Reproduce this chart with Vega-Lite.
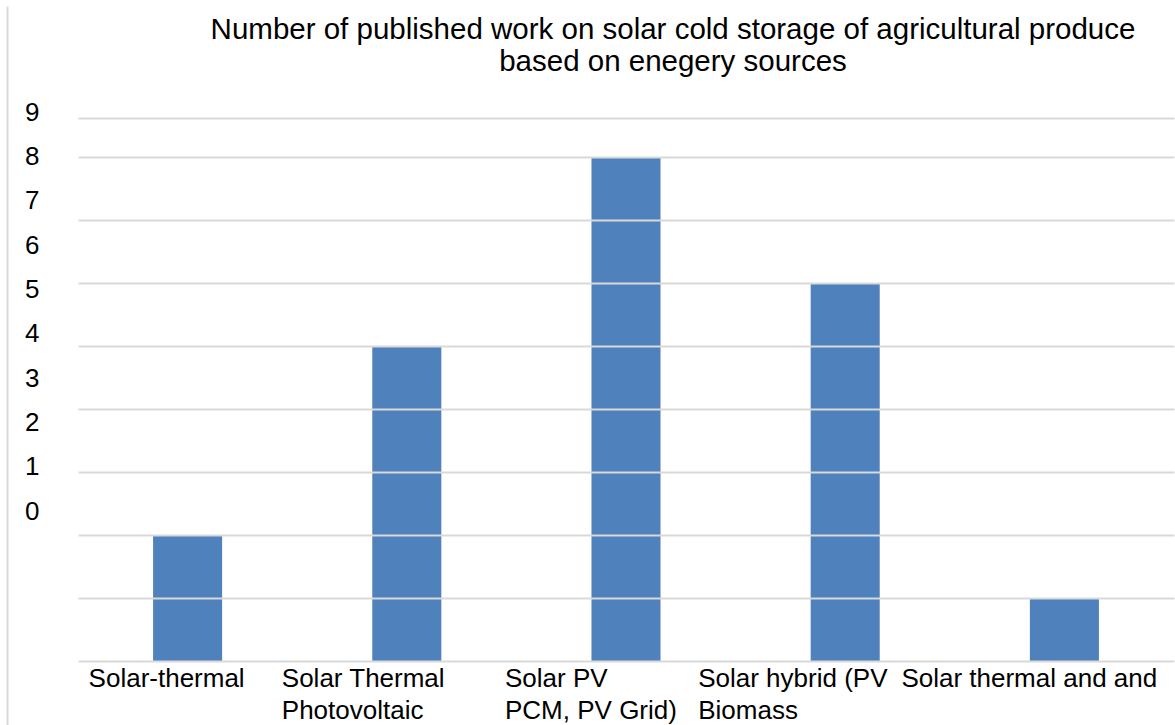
{
  "$schema": "https://vega.github.io/schema/vega-lite/v6.json",
  "autosize": "none",
  "width": 1096,
  "height": 719,
  "padding": {"left": 78, "top": 6, "right": 1, "bottom": 0},
  "background": "white",
  "config": {
    "font": "Liberation Sans",
    "view": {"stroke": null}
  },
  "title": {
    "text": ["Number of published work on solar cold storage of agricultural produce", "based on enegery sources"],
    "fontSize": 29.5,
    "fontWeight": "normal",
    "color": "#000000",
    "font": "Liberation Sans",
    "lineHeight": 32,
    "anchor": "middle",
    "baseline": "top",
    "dx": 47,
    "offset": -71
  },
  "data": {
    "values": [
      {"source": "Solar-thermal", "count": 2},
      {"source": "Solar Thermal\nPhotovoltaic", "count": 5},
      {"source": "Solar PV\nPCM, PV Grid)", "count": 8},
      {"source": "Solar hybrid (PV\nBiomass", "count": 6},
      {"source": "Solar thermal and and", "count": 1}
    ]
  },
  "encoding": {
    "x": {
      "field": "source",
      "type": "nominal",
      "sort": null,
      "scale": {"paddingInner": 0.685, "paddingOuter": 0.3425},
      "axis": {
        "title": null,
        "orient": "bottom",
        "offset": -64,
        "domain": false,
        "ticks": false,
        "grid": false,
        "labelAngle": 0,
        "labelAlign": "left",
        "labelBaseline": "top",
        "labelPadding": 4,
        "labelFontSize": 26,
        "labelLineHeight": 32,
        "labelColor": "#000000",
        "labelOverlap": false,
        "labelBound": false,
        "labelLimit": 0,
        "labelExpr": "split(datum.label, '\\n')",
        "labelOffset": {
          "condition": [
            {"test": "datum.value == 'Solar Thermal\\nPhotovoltaic'", "value": -125},
            {"test": "datum.value == 'Solar PV\\nPCM, PV Grid)'", "value": -121},
            {"test": "datum.value == 'Solar hybrid (PV\\nBiomass'", "value": -147},
            {"test": "datum.value == 'Solar thermal and and'", "value": -163}
          ],
          "value": -99
        }
      }
    }
  },
  "layer": [
    {
      "mark": {"type": "bar", "color": "#4f81bd"},
      "encoding": {
        "y": {
          "field": "count",
          "type": "quantitative",
          "scale": {"domain": [-1.016, 10.397], "nice": false, "zero": false},
          "axis": {
            "title": null,
            "orient": "left",
            "zindex": 1,
            "domain": false,
            "ticks": false,
            "labels": false,
            "grid": true,
            "gridColor": "#d9d9d9",
            "gridWidth": 2,
            "values": [0, 1, 2, 3, 4, 5, 6, 7, 8, 8.619]
          }
        }
      }
    },
    {
      "mark": {"type": "point", "opacity": 0},
      "encoding": {
        "y": {
          "field": "count",
          "type": "quantitative",
          "scale": {"domain": [-4.827, 11.392], "nice": false, "zero": false},
          "axis": {
            "title": null,
            "orient": "left",
            "offset": 71,
            "domain": true,
            "domainColor": "#d9d9d9",
            "domainWidth": 2,
            "ticks": false,
            "grid": false,
            "labelAlign": "right",
            "labelPadding": -32,
            "labelFontSize": 26,
            "labelColor": "#000000",
            "labelBound": false,
            "labelFlush": false,
            "labelOverlap": false,
            "values": [0, 1, 2, 3, 4, 5, 6, 7, 8, 9]
          }
        }
      }
    }
  ],
  "resolve": {"scale": {"y": "independent"}, "axis": {"y": "independent"}}
}
